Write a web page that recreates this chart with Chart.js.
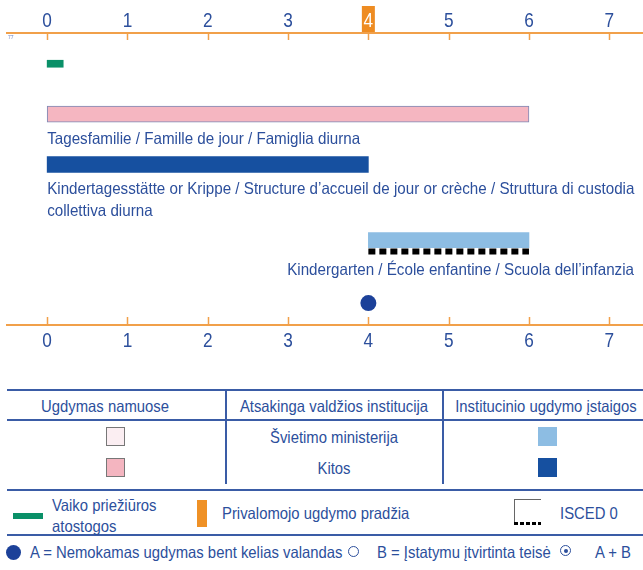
<!DOCTYPE html>
<html lang="lt">
<head>
<meta charset="UTF-8" />
<title>Ikimokyklinis ugdymas</title>
<script src="https://cdn.jsdelivr.net/npm/chart.js"></script>
<style>
  body { margin: 0; background: #fff; }
  #wrap {
    position: relative; width: 643px; height: 570px; overflow: hidden;
    font-family: 'Liberation Sans', Arial, sans-serif;
    color: #2c4f9c; font-size: 16.5px;
  }
  #chartBox { position: absolute; left: 0; top: 0; width: 643px; height: 380px; }
  .abs { position: absolute; white-space: nowrap; }
  /* the original uses a condensed face; squeeze the regular one */
  .c { transform: translate(-50%, -50%) scaleX(0.9); }
  .l { transform-origin: 0 50%; transform: translateY(-50%) scaleX(0.9); }
  .hr { position: absolute; left: 7px; width: 636px; height: 2px; background: #3a5ca6; }
  .vr { position: absolute; width: 2px; background: #3a5ca6; }
  .sq { position: absolute; width: 19px; height: 19px; box-sizing: border-box; }
</style>
</head>
<body>
<div id="wrap">
  <div id="chartBox"><canvas id="chart" width="643" height="380"></canvas></div>
  <div class="abs" style="left:8px;top:34px;font-size:5px;color:#6a7fbf">77</div>

  <!-- legend table -->
  <div class="hr" style="top:389px"></div>
  <div class="hr" style="top:419px"></div>
  <div class="hr" style="top:489px"></div>
  <div class="hr" style="top:534px"></div>
  <div class="vr" style="left:225px;top:390px;height:94px"></div>
  <div class="vr" style="left:442px;top:390px;height:94px"></div>

  <div class="abs c" style="left:105px;top:406px">Ugdymas namuose</div>
  <div class="abs c" style="left:334px;top:406px">Atsakinga valdžios institucija</div>
  <div class="abs c" style="left:546px;top:406px">Institucinio ugdymo įstaigos</div>

  <div class="sq" style="left:106px;top:427px;background:#fbeef2;border:1px solid #777"></div>
  <div class="abs c" style="left:334px;top:437px">Švietimo ministerija</div>
  <div class="sq" style="left:538px;top:427px;background:#8dbde3"></div>

  <div class="sq" style="left:106px;top:458px;background:#f4b5c0;border:1px solid #777"></div>
  <div class="abs c" style="left:334px;top:468px">Kitos</div>
  <div class="sq" style="left:538px;top:458px;background:#1650a0"></div>

  <div class="abs" style="left:13px;top:513px;width:30px;height:6px;background:#0a9068"></div>
  <div class="abs l" style="left:52px;top:505px">Vaiko priežiūros</div>
  <div class="abs l" style="left:52px;top:526px">atostogos</div>
  <div class="abs" style="left:197px;top:500px;width:10px;height:27px;background:#ef9126"></div>
  <div class="abs l" style="left:222px;top:513px">Privalomojo ugdymo pradžia</div>
  <div class="abs" style="left:514px;top:499px;width:26px;height:23px;border-top:1px solid #666;border-left:1px solid #666"></div>
  <div class="abs" style="left:514px;top:522px;width:27px;height:3px;background:repeating-linear-gradient(90deg,#000 0 4px,transparent 4px 6px)"></div>
  <div class="abs l" style="left:560px;top:513px">ISCED 0</div>

  <div class="abs" style="left:6px;top:545px;width:15px;height:15px;border-radius:50%;background:#1c4199"></div>
  <div class="abs l" style="left:30px;top:552px">A = Nemokamas ugdymas bent kelias valandas</div>
  <div class="abs" style="left:348px;top:546px;width:9px;height:9px;border:1.5px solid #2c4f9c;border-radius:50%"></div>
  <div class="abs l" style="left:377px;top:552px">B = Įstatymu įtvirtinta teisė</div>
  <div class="abs" style="left:560px;top:545px;width:9px;height:9px;border:1.5px solid #2c4f9c;border-radius:50%"></div>
  <div class="abs" style="left:564px;top:549px;width:4px;height:4px;border-radius:50%;background:#2c4f9c"></div>
  <div class="abs l" style="left:595px;top:552px">A + B</div>
</div>

<script>
  // age axis (years)
  const xTicks = [0, 1, 2, 3, 4, 5, 6, 7];
  const compulsoryAge = 4;

  // rows, top to bottom, and the slot each one sits in
  const rowNames = ["Vaiko priežiūros atostogos", "Tagesfamilie", "Kindertagesstätte", "Kindergarten", "Nemokamas ugdymas"];
  const rowSlots = [2, 6, 10, 16, 21];

  // age ranges [from, to]
  const leaveRange = [0, 0.2];
  const homeRange = [0, 6];
  const centreRange = [0, 4];
  const kindergartenRange = [4, 6];
  const freeHoursAge = 4;

  const homeLabel = ["Tagesfamilie / Famille de jour / Famiglia diurna"];
  const centreLabel = [
    "Kindertagesstätte or Krippe / Structure d’accueil de jour or crèche / Struttura di custodia",
    "collettiva diurna",
  ];
  const kindergartenLabel = ["Kindergarten / École enfantine / Scuola dell’infanzia"];

  const FONT = "'Liberation Sans', Arial, sans-serif";
  const textBlue = "#2c4f9c";
  const orange = "#f1a04a";
  const squeeze = 0.92;

  Chart.defaults.font.family = FONT;
  Chart.defaults.color = textBlue;

  function narrowText(ctx, text, x, y) {
    ctx.save();
    ctx.translate(x, y);
    ctx.scale(squeeze, 1);
    ctx.fillText(text, 0, 0);
    ctx.restore();
  }

  // orange box behind the compulsory-school age on the top axis
  const highlightPlugin = {
    id: "highlight",
    beforeDraw(chart) {
      const px = chart.scales.x.getPixelForValue(compulsoryAge);
      const ctx = chart.ctx;
      ctx.save();
      ctx.fillStyle = "#ee8c22";
      ctx.fillRect(px - 6.5, chart.chartArea.top - 27, 13, 26);
      ctx.restore();
    },
  };

  // tick marks pointing into the plot and the condensed age numbers
  const tickPlugin = {
    id: "ticksIn",
    afterDraw(chart) {
      const ctx = chart.ctx;
      const { top, bottom } = chart.chartArea;
      ctx.save();
      ctx.strokeStyle = orange;
      ctx.lineWidth = 1.5;
      ctx.font = "21px " + FONT;
      ctx.textAlign = "center";
      ctx.textBaseline = "alphabetic";
      xTicks.forEach((v) => {
        const pt = chart.scales.x.getPixelForValue(v);
        const pb = chart.scales.x2.getPixelForValue(v);
        ctx.beginPath();
        ctx.moveTo(Math.round(pt) + 0.5, top);
        ctx.lineTo(Math.round(pt) + 0.5, top + 7);
        ctx.moveTo(Math.round(pb) + 0.5, bottom);
        ctx.lineTo(Math.round(pb) + 0.5, bottom - 8);
        ctx.stroke();
        ctx.fillStyle = v === compulsoryAge ? "#fff" : textBlue;
        ctx.save();
        ctx.translate(pt, top - 6);
        ctx.scale(0.82, 1);
        ctx.fillText(String(v), 0, 0);
        ctx.restore();
        ctx.fillStyle = textBlue;
        ctx.save();
        ctx.translate(pb, bottom + 22);
        ctx.scale(0.82, 1);
        ctx.fillText(String(v), 0, 0);
        ctx.restore();
      });
      ctx.restore();
    },
  };

  // text under bars + ISCED dashed line
  const barTextPlugin = {
    id: "barText",
    afterDatasetsDraw(chart) {
      const ctx = chart.ctx;
      ctx.save();
      ctx.font = "16.5px " + FONT;
      ctx.fillStyle = textBlue;
      ctx.textBaseline = "middle";
      chart.data.datasets.forEach((ds, i) => {
        if (!ds.textLines) return;
        const bar = chart.getDatasetMeta(i).data[0];
        const below = bar.y + bar.height / 2;
        if (ds.isced) {
          ctx.save();
          ctx.strokeStyle = "#000";
          ctx.lineWidth = 6;
          ctx.setLineDash([7, 4]);
          ctx.beginPath();
          ctx.moveTo(bar.base, below + 4);
          ctx.lineTo(bar.x, below + 4);
          ctx.stroke();
          ctx.restore();
        }
        ds.textLines.forEach((t, k) => {
          if (ds.alignRight) {
            const w = ctx.measureText(t).width * squeeze;
            narrowText(ctx, t, chart.chartArea.right - 9 - w, below + 23 + k * 22);
          } else {
            narrowText(ctx, t, bar.base, below + 17 + k * 22);
          }
        });
      });
      ctx.restore();
    },
  };

  const axisCommon = {
    type: "linear",
    min: -0.5,
    max: 7.42,
    afterBuildTicks: (s) => {
      s.ticks = xTicks.map((v) => ({ value: v }));
    },
    grid: { display: false, drawTicks: false },
    border: { display: true, color: orange, width: 2 },
    ticks: { display: false },
  };

  new Chart(document.getElementById("chart"), {
    type: "bar",
    data: {
      datasets: [
        {
          label: rowNames[0],
          data: [{ x: leaveRange, y: rowSlots[0] }],
          backgroundColor: "#0a9068",
          barThickness: 7,
        },
        {
          label: rowNames[1],
          data: [{ x: homeRange, y: rowSlots[1] }],
          backgroundColor: "#f5b6c1",
          borderColor: "#7d88b5",
          borderWidth: 1,
          borderSkipped: false,
          barThickness: 16,
          textLines: homeLabel,
        },
        {
          label: rowNames[2],
          data: [{ x: centreRange, y: rowSlots[2] }],
          backgroundColor: "#1650a0",
          barThickness: 16,
          textLines: centreLabel,
        },
        {
          label: rowNames[3],
          data: [{ x: kindergartenRange, y: rowSlots[3] }],
          backgroundColor: "#8dbde3",
          barThickness: 15,
          textLines: kindergartenLabel,
          alignRight: true,
          isced: true,
        },
        {
          type: "scatter",
          label: rowNames[4],
          data: [{ x: freeHoursAge, y: rowSlots[4] }],
          backgroundColor: "#1c4199",
          borderWidth: 0,
          pointRadius: 8,
          pointHoverRadius: 8,
        },
      ],
    },
    options: {
      indexAxis: "y",
      grouped: false,
      responsive: false,
      animation: false,
      layout: { autoPadding: false, padding: { left: 7, right: 0, top: 0, bottom: 0 } },
      plugins: { legend: { display: false }, tooltip: { enabled: false } },
      scales: {
        x: {
          ...axisCommon,
          position: "top",
          afterFit: (s) => { s.height = 33; },
        },
        x2: {
          ...axisCommon,
          axis: "x",
          position: "bottom",
          afterFit: (s) => { s.height = 55; },
        },
        y: {
          type: "linear",
          display: false,
          reverse: true,
          offset: false,
          grace: 0,
          min: -0.44,
          max: 22.74,
        },
      },
    },
    plugins: [highlightPlugin, tickPlugin, barTextPlugin],
  });
</script>
</body>
</html>
